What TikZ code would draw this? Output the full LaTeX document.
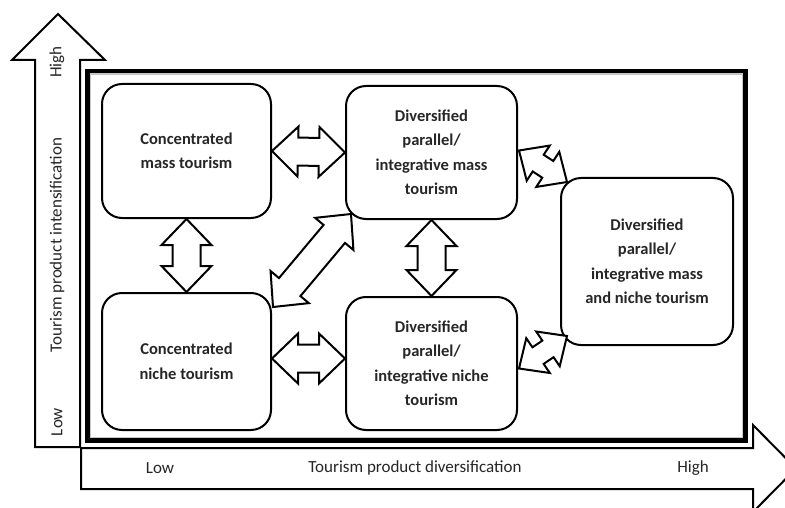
\documentclass[tikz,border=0pt]{standalone}
\usepackage{fontspec}
\setmainfont{Carlito}
\usetikzlibrary{calc}

\tikzset{
  box/.style={draw, line width=2pt, rounded corners=20pt, align=center,
    font=\bfseries\fontsize{16.5}{24.5}\selectfont, text=black!85},
  blockarrow/.style={draw, line width=2pt, fill=white, line join=miter},
  axisarrow/.style={draw, line width=2pt, fill=white, line join=miter},
  axislabel/.style={font=\fontsize{17}{20}\selectfont, text=black!85}
}

% sizes of the block arrows
\newcommand{\headlen}{26pt}
\newcommand{\headw}{25pt}
\newcommand{\shaftw}{14pt}

% double block arrow between two points
\newcommand{\twoway}[2]{%
  \coordinate (p1) at ($(#1)!\headlen!(#2)$);
  \coordinate (q1) at ($(#2)!\headlen!(#1)$);
  \draw[blockarrow] (#1) -- ($(p1)!\headw!90:(#2)$) -- ($(p1)!\shaftw!90:(#2)$)
    -- ($(q1)!\shaftw!-90:(#1)$) -- ($(q1)!\headw!-90:(#1)$) -- (#2)
    -- ($(q1)!\headw!90:(#1)$) -- ($(q1)!\shaftw!90:(#1)$)
    -- ($(p1)!\shaftw!-90:(#2)$) -- ($(p1)!\headw!-90:(#2)$) -- cycle;
}

\begin{document}
\begin{tikzpicture}[x=1pt, y=-1pt, line cap=round, line join=round]
  \useasboundingbox (0,0) rectangle (785,508);
  \clip (0,0) rectangle (785,508);

  % Ejes
  \draw[axisarrow] (35,447) -- (35,60) -- (12,60) -- (58,14) -- (105,60)
    -- (80,60) -- (80,447) -- cycle;
  \draw[axisarrow] (81,448) -- (753,448) -- (753,425) -- (796,468.5)
    -- (753,512) -- (753,489) -- (81,489) -- cycle;

  \node[axislabel] (xlow) at (160,468) {Low};
  \node[axislabel] (xlab) at (415,468) {Tourism product diversification};
  \node[axislabel] (xhigh) at (693,468) {High};
  \node[axislabel, rotate=90] (ylow) at (57,422) {Low};
  \node[axislabel, rotate=90] (ylab) at (57,245) {Tourism product intensification};
  \node[axislabel, rotate=90] (yhigh) at (57,62) {High};

  % Marco
  \draw[gray!45, line width=1.2pt] (90.6,74.1) rectangle (742.4,437.4);
  \draw[line width=4.5pt, line join=miter] (87.5,71) rectangle (745.5,440.5);

  % Cajas
  \node[box, minimum width=169pt, minimum height=134pt] (CM) at (186.5,151)
    {Concentrated\\mass tourism};
  \node[box, minimum width=171pt, minimum height=133pt] (DM) at (431.5,152.5)
    {Diversified\\parallel/\\integrative mass\\tourism};
  \node[box, minimum width=169pt, minimum height=137pt] (CN) at (186.5,361.5)
    {Concentrated\\niche tourism};
  \node[box, minimum width=171pt, minimum height=133pt] (DN) at (431.5,363.5)
    {Diversified\\parallel/\\integrative niche\\tourism};
  \node[box, minimum width=172pt, minimum height=167pt] (DMN) at (647,261.5)
    {Diversified\\parallel/\\integrative mass\\and niche tourism};

  % Puntas
  \coordinate (cn1) at ($(CN.north east)+(1,15)$);
  \coordinate (dm1) at ($(DM.south west)+(6,-6)$);
  \coordinate (dm2) at ($(DM.east)+(1,-2)$);
  \coordinate (dmn1) at ($(DMN.north west)+(7,5)$);
  \coordinate (dn1) at ($(DN.east)+(1,5)$);
  \coordinate (dmn2) at ($(DMN.south west)+(7,-10)$);
  \coordinate (cn2) at ($(CN.east)+(0,-3)$);
  \coordinate (dn2) at ($(DN.west)+(0,-5)$);

  % Flechas
  \twoway{CM.east}{DM.west}
  \twoway{CM.south}{CN.north}
  \twoway{DM.south}{DN.north}
  \twoway{cn2}{dn2}
  \twoway{cn1}{dm1}
  {\renewcommand{\headlen}{23pt}\renewcommand{\headw}{21pt}\renewcommand{\shaftw}{10pt}
  \twoway{dm2}{dmn1}
  \twoway{dn1}{dmn2}}
\end{tikzpicture}
\end{document}
